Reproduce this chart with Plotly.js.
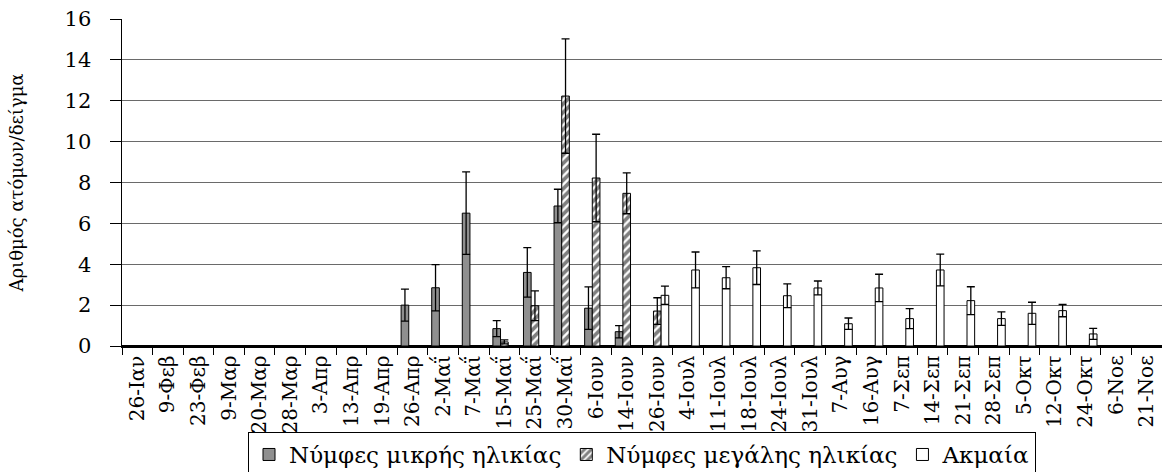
<!DOCTYPE html>
<html>
<head>
<meta charset="utf-8">
<script src="https://cdn.plot.ly/plotly-3.0.1.min.js"></script>
<style>html,body{margin:0;padding:0;background:#fff;}#chart{width:1162px;height:472px;}</style>
</head>
<body>
<div id="chart"></div>
<script>
var categories = ["26-Ιαν","9-Φεβ","23-Φεβ","9-Μαρ","20-Μαρ","28-Μαρ","3-Απρ","13-Απρ","19-Απρ","26-Απρ","2-Μαΐ","7-Μαΐ","15-Μαΐ","25-Μαΐ","30-Μαΐ","6-Ιουν","14-Ιουν","26-Ιουν","4-Ιουλ","11-Ιουλ","18-Ιουλ","24-Ιουλ","31-Ιουλ","7-Αυγ","16-Αυγ","7-Σεπ","14-Σεπ","21-Σεπ","28-Σεπ","5-Οκτ","12-Οκτ","24-Οκτ","6-Νοε","21-Νοε"];

var seriesNames = ["Νύμφες μικρής ηλικίας","Νύμφες μεγάλης ηλικίας","Ακμαία"];

var smallNymphs    = [0,0,0,0,0,0,0,0,0,2.0,2.85,6.5,0.85,3.6,6.85,1.85,0.7,0,0,0,0,0,0,0,0,0,0,0,0,0,0,0,0,0];
var smallNymphsErr = [null,null,null,null,null,null,null,null,null,0.78,1.13,2.02,0.39,1.21,0.82,1.04,0.3,null,null,null,null,null,null,null,null,null,null,null,null,null,null,null,null,null];

var largeNymphs    = [0,0,0,0,0,0,0,0,0,0,0,0,0.2,1.97,12.23,8.22,7.47,1.71,0,0,0,0,0,0,0,0,0,0,0,0,0,0,0,0];
var largeNymphsErr = [null,null,null,null,null,null,null,null,null,null,null,null,0.1,0.73,2.8,2.14,1.0,0.65,null,null,null,null,null,null,null,null,null,null,null,null,null,null,null,null];

var adults    = [0,0,0,0,0,0,0,0,0,0,0,0,0,0,0,0,0,2.48,3.72,3.34,3.83,2.46,2.84,1.09,2.84,1.34,3.72,2.22,1.34,1.6,1.73,0.59,0,0];
var adultsErr = [null,null,null,null,null,null,null,null,null,null,null,null,null,null,null,null,null,0.45,0.88,0.54,0.82,0.58,0.34,0.28,0.67,0.49,0.78,0.68,0.33,0.54,0.3,0.27,null,null];

var yTitle = "Αριθμός ατόμων/δείγμα";

var serif = "DejaVu Serif, Liberation Serif, serif";

function errObj(arr){
  return {type:"data", array:arr, visible:true, color:"#000", thickness:1.3, width:4};
}

var traces = [
  {type:"bar", name:seriesNames[0], x:categories, y:smallNymphs, error_y:errObj(smallNymphsErr),
   marker:{color:"#8f8f8f", line:{color:"#000", width:1}}},
  {type:"bar", name:seriesNames[1], x:categories, y:largeNymphs, error_y:errObj(largeNymphsErr),
   marker:{color:"#fff", line:{color:"#000", width:1},
     pattern:{shape:"/", fgcolor:"#000", bgcolor:"#fff", size:6, solidity:0.62, fillmode:"overlay"}}},
  {type:"bar", name:seriesNames[2], x:categories, y:adults, error_y:errObj(adultsErr),
   marker:{color:"#fff", line:{color:"#000", width:1}}}
];

var layout = {
  width:1162, height:472,
  margin:{l:122, r:0, t:19, b:126},
  paper_bgcolor:"#fff", plot_bgcolor:"#fff",
  barmode:"group", bargap:0.25, bargroupgap:0,
  font:{family:serif, color:"#000"},
  showlegend:true,
  xaxis:{
    type:"category", range:[-0.5,33.5], fixedrange:true,
    tickangle:-90, tickfont:{family:serif, size:20, color:"#000"},
    ticks:"outside", tickson:"boundaries", ticklen:7, tickcolor:"#000", tickwidth:1,
    showline:true, linecolor:"#000", linewidth:1.5, showgrid:false, zeroline:false,
    automargin:false
  },
  yaxis:{
    range:[0,16], dtick:2, tick0:0, fixedrange:true,
    tickfont:{family:serif, size:21, color:"#000"},
    ticks:"outside", ticklen:11, tickcolor:"#000", tickwidth:1, ticklabelstandoff:14,
    showline:true, linecolor:"#000", linewidth:1.5,
    showgrid:true, gridcolor:"#6a6a6a", gridwidth:1,
    zeroline:true, zerolinecolor:"#000", zerolinewidth:1.5,
    title:{text:yTitle, font:{family:serif, size:18, color:"#000"}, standoff:36},
    automargin:false
  },
  legend:{
    orientation:"h", xref:"paper", x:0.5, xanchor:"center",
    yref:"container", y:0.0847, yanchor:"top",
    font:{family:serif, size:23, color:"#000"},
    bordercolor:"#000", borderwidth:1, bgcolor:"#fff",
    itemwidth:30, tracegroupgap:0, traceorder:"normal"
  }
};

Plotly.newPlot("chart", traces, layout, {displayModeBar:false, staticPlot:true});
</script>
</body>
</html>
